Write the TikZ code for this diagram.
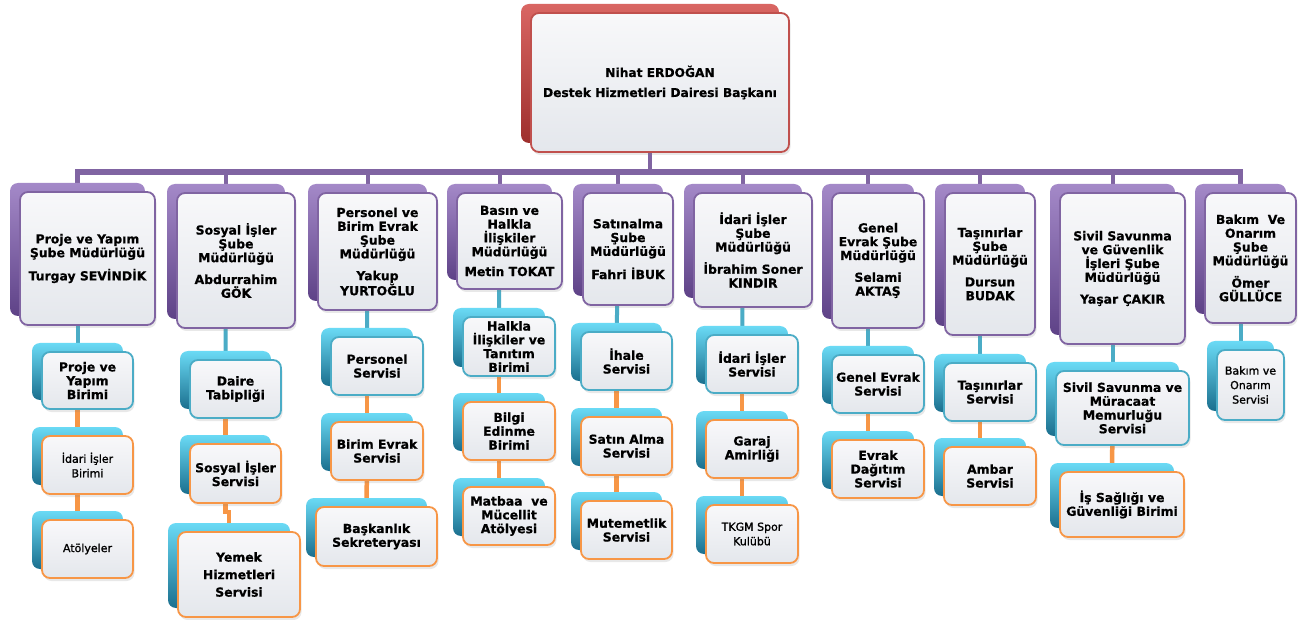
\documentclass[tikz,border=0pt]{standalone}
\usepackage{fontspec}
\setmainfont{DejaVu Sans}[BoldFeatures={FakeBold=0.7}]
\newfontfamily\semib{DejaVu Sans}[FakeBold=1.3]
\usetikzlibrary{shadows,calc}
\pgfdeclarelayer{bg}
\pgfsetlayers{bg,main}
\definecolor{pline}{HTML}{8064A2}
\definecolor{tline}{HTML}{4BACC6}
\definecolor{oline}{HTML}{F79646}
\definecolor{rline}{HTML}{C0504D}
\definecolor{purtop}{HTML}{A489C8}
\definecolor{purmid}{HTML}{8466AD}
\definecolor{purbot}{HTML}{5E4287}
\definecolor{teatop}{HTML}{6ADAF5}
\definecolor{teamid}{HTML}{2FA6CB}
\definecolor{teabot}{HTML}{1B6F8E}
\definecolor{redtop}{HTML}{D96663}
\definecolor{redmid}{HTML}{C2443F}
\definecolor{redbot}{HTML}{9E2F2D}
\definecolor{frtop}{HTML}{F8F8FA}
\definecolor{frbot}{HTML}{E4E7EC}
\tikzset{
  backbase/.style={rounded corners=8pt, inner sep=0pt, draw=none},
  frontbase/.style={rounded corners=8pt, inner sep=2pt, align=center, line width=1.8pt,
     top color=frtop, bottom color=frbot,
     drop shadow={shadow xshift=1.5pt, shadow yshift=-3pt, opacity=.18},
     font=\bfseries\fontsize{12.4}{13.8}\selectfont},
  topback/.style={backbase, top color=redtop, middle color=redmid, bottom color=redbot},
  topfront/.style={frontbase, draw=rline, font=\bfseries\fontsize{12.2}{20}\selectfont},
  mgrback/.style={backbase, top color=purtop, middle color=purmid, bottom color=purbot},
  mgrfront/.style={frontbase, draw=pline},
  tlback/.style={backbase, top color=teatop, middle color=teamid, bottom color=teabot},
  tlfront/.style={frontbase, draw=tline},
  tlsmback/.style={tlback},
  tlsmfront/.style={tlfront, font=\semib\fontsize{11}{14.5}\selectfont},
  orback/.style={tlback},
  orfront/.style={frontbase, draw=oline},
  orsmback/.style={tlback},
  orsmfront/.style={orfront, font=\semib\fontsize{11}{14.5}\selectfont},
  orbigback/.style={tlback},
  orbigfront/.style={orfront, font=\bfseries\fontsize{12.4}{17.5}\selectfont},
  purconn/.style={draw=pline, line width=4pt},
  busconn/.style={draw=pline, line width=5.5pt},
  teaconn/.style={draw=tline, line width=4pt},
  orconn/.style={draw=oline, line width=4.5pt}
}
\newcommand\obox[7]{%
  \node[#2back, minimum width=#5pt, minimum height=#6pt] (#1b) at ({#3-10},{#4-9}) {};
  \node[#2front, minimum width=#5pt, minimum height=#6pt] (#1) at (#3,#4) {#7};}
\begin{document}
\begin{tikzpicture}[x=1pt,y=-1pt]
\begin{pgfonlayer}{bg}
\fill[white] (0,0) rectangle (1307,620);
\end{pgfonlayer}
\useasboundingbox (0,0) rectangle (1307,620);
% top
\obox{top}{top}{660}{82.5}{258}{139}{Nihat ERDOĞAN\\ Destek Hizmetleri Dairesi Başkanı}
% level 1
\obox{m1}{mgr}{87.5}{258.5}{135}{133}{Proje ve Yapım\\Şube Müdürlüğü\\[8pt]Turgay SEVİNDİK}
\obox{m2}{mgr}{236}{260.5}{118}{135}{Sosyal İşler\\Şube\\Müdürlüğü\\[8pt]Abdurrahim\\GÖK}
\obox{m3}{mgr}{377.5}{251.5}{119}{117}{Personel ve\\Birim Evrak\\Şube\\Müdürlüğü\\[8pt]Yakup\\YURTOĞLU}
\obox{m4}{mgr}{509.5}{241}{105}{96}{Basın ve\\Halkla\\İlişkiler\\Müdürlüğü\\[6pt]Metin TOKAT}
\obox{m5}{mgr}{628}{249}{90}{112}{Satınalma\\Şube\\Müdürlüğü\\[8pt]Fahri İBUK}
\obox{m6}{mgr}{753}{250}{118}{114}{İdari İşler\\Şube\\Müdürlüğü\\[7pt]İbrahim Soner\\KINDIR}
\obox{m7}{mgr}{878}{260.5}{92}{135}{Genel\\Evrak Şube\\Müdürlüğü\\[8pt]Selami\\AKTAŞ}
\obox{m8}{mgr}{990}{264}{90}{142}{Taşınırlar\\Şube\\Müdürlüğü\\[8pt]Dursun\\BUDAK}
\obox{m9}{mgr}{1122.5}{268.5}{125}{151}{Sivil Savunma\\ve Güvenlik\\İşleri Şube\\Müdürlüğü\\[8pt]Yaşar ÇAKIR}
\obox{m10}{mgr}{1250.5}{258}{91}{130}{Bakım\ \ Ve\\Onarım\\Şube\\Müdürlüğü\\[7pt]Ömer\\GÜLLÜCE}
% col 1
\obox{c11}{tl}{87.5}{380.5}{91}{57}{Proje ve\\Yapım\\Birimi}
\obox{c12}{orsm}{87.5}{465}{91}{58}{İdari İşler\\Birimi}
\obox{c13}{orsm}{87.5}{549}{91}{58}{Atölyeler}
% col 2
\obox{c21}{tl}{235.5}{389}{91}{58}{Daire\\Tabipliği}
\obox{c22}{or}{235.5}{473.5}{91}{59}{Sosyal İşler\\Servisi}
\obox{c23}{orbig}{239}{574.5}{122}{85}{Yemek\\Hizmetleri\\Servisi}
% col 3
\obox{c31}{tl}{377}{366}{92}{58}{Personel\\Servisi}
\obox{c32}{or}{377}{451}{92}{58}{Birim Evrak\\Servisi}
\obox{c33}{or}{376.5}{536.5}{121}{59}{Başkanlık\\Sekreteryası}
% col 4
\obox{c41}{tl}{509}{346.5}{92}{59}{Halkla\\İlişkiler ve\\Tanıtım\\Birimi}
\obox{c42}{or}{509}{431}{92}{58}{Bilgi\\Edinme\\Birimi}
\obox{c43}{or}{509}{516}{92}{58}{Matbaa\ \ ve\\Mücellit\\Atölyesi}
% col 5
\obox{c51}{tl}{626.5}{361}{91}{58}{İhale\\Servisi}
\obox{c52}{or}{626.5}{446}{91}{58}{Satın Alma\\Servisi}
\obox{c53}{or}{626.5}{530}{91}{58}{Mutemetlik\\Servisi}
% col 6
\obox{c61}{tl}{752}{364}{92}{58}{İdari İşler\\Servisi}
\obox{c62}{or}{752}{449}{92}{58}{Garaj\\Amirliği}
\obox{c63}{orsm}{752}{534}{92}{58}{TKGM Spor\\Kulübü}
% col 7
\obox{c71}{tl}{878}{384}{92}{58}{Genel Evrak\\Servisi}
\obox{c72}{or}{878}{469}{92}{58}{Evrak\\Dağıtım\\Servisi}
% col 8
\obox{c81}{tl}{990}{392}{92}{58}{Taşınırlar\\Servisi}
\obox{c82}{or}{990}{476}{92}{58}{Ambar\\Servisi}
% col 9
\obox{c91}{tl}{1122.5}{408}{133}{74}{Sivil Savunma ve\\Müracaat\\Memurluğu\\Servisi}
\obox{c92}{or}{1122}{504.5}{124}{65}{İş Sağlığı ve\\Güvenliği Birimi}
% col 10
\obox{c101}{tlsm}{1250.5}{385}{67}{70}{Bakım ve\\Onarım\\Servisi}
% connectors
\begin{pgfonlayer}{bg}
\coordinate (bus) at (650,172);
\draw[purconn] (topb.center) -- (bus);
\draw[busconn] (m1b.center) |- (bus) -| (m10b.center);
\foreach \k in {2,...,9}{\draw[purconn] (m\k b.center) -- (m\k b.center |- bus);}
\foreach \k in {1,...,10}{\draw[teaconn] (m\k b.center) -- (c\k 1b.center);}
\draw[orconn] (c11b.center) -- (c12b.center);
\draw[orconn] (c12b.center) -- (c13b.center);
\draw[orconn] (c21b.center) -- (c22b.center);
\draw[orconn] (c22b.center) |- ($(c23b.north)+(0,-11)$) -| (c23b.center);
\draw[orconn] (c31b.center) -- (c32b.center);
\draw[orconn] (c32b.center) -- (c33b.center);
\draw[orconn] (c41b.center) -- (c42b.center);
\draw[orconn] (c42b.center) -- (c43b.center);
\draw[orconn] (c51b.center) -- (c52b.center);
\draw[orconn] (c52b.center) -- (c53b.center);
\draw[orconn] (c61b.center) -- (c62b.center);
\draw[orconn] (c62b.center) -- (c63b.center);
\draw[orconn] (c71b.center) -- (c72b.center);
\draw[orconn] (c81b.center) -- (c82b.center);
\draw[orconn] (c91b.center) -- (c92b.center);
\end{pgfonlayer}
\end{tikzpicture}
\end{document}
